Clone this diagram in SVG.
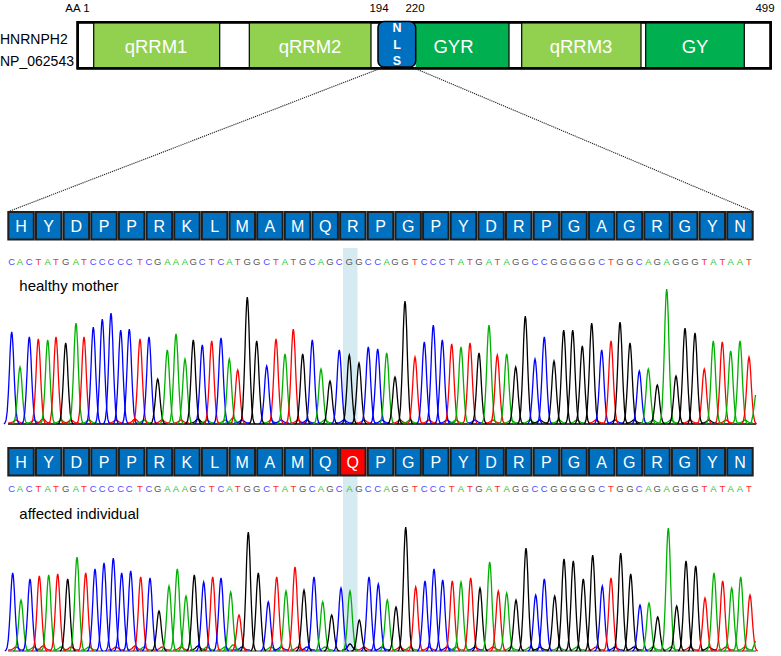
<svg xmlns="http://www.w3.org/2000/svg" xmlns:xlink="http://www.w3.org/1999/xlink" width="781" height="656" viewBox="0 0 781 656">
<style>
text{font-family:"Liberation Sans",Arial,sans-serif}
.lbl{font-size:14px;fill:#000}
.pos{font-size:11.5px;fill:#000;text-anchor:middle}
.dom{font-size:18.5px;fill:#fff;text-anchor:middle}
.nls{font-size:12.5px;font-weight:bold;fill:#fff;text-anchor:middle}
.sep{stroke:#000;stroke-width:1.2}
.aa rect{fill:#0070c0;stroke:#1e1e1e;stroke-width:2}
.aa.mut rect{fill:#ff0000}
.aa text{fill:#fff;font-size:16px;text-anchor:middle}
.seq{font-size:9.5px;text-anchor:middle}
.sA{fill:#2ec52e}.sC{fill:#4b4bff}.sT{fill:#ff3030}.sG{fill:#555}
.cb{stroke:#0000ff}.cg{stroke:#00b000}.cr{stroke:#ff0000}.ck{stroke:#000}
.title{font-size:15px;fill:#000}
.band{fill:#d6eaf1}
.zoom{stroke:#222;stroke-width:1.1;stroke-dasharray:1.2 0.9;fill:none}
</style>
<defs>
<path id="peak" fill="none" stroke-width="1.3" vector-effect="non-scaling-stroke" d="M-7.8 0L-6.7 -0.011L-5.6 -0.044L-4.5 -0.135L-3.4 -0.325L-2.8 -0.458L-2.2 -0.607L-1.7 -0.755L-1.1 -0.882L-0.56 -0.969L0 -1L0.56 -0.969L1.1 -0.882L1.7 -0.755L2.2 -0.607L2.8 -0.458L3.4 -0.325L4.5 -0.135L5.6 -0.044L6.7 -0.011L7.8 0"/>
</defs>

<!-- protein bar -->
<g id="protein">
<text class="lbl" x="0" y="44">HNRNPH2</text>
<text class="lbl" x="0" y="66">NP_062543</text>
<text class="pos" x="77.5" y="12">AA 1</text>
<text class="pos" x="379" y="12">194</text>
<text class="pos" x="415" y="12">220</text>
<text class="pos" x="765" y="12">499</text>
<rect x="77.7" y="22.3" width="693" height="46" fill="#fff" stroke="#000" stroke-width="2.5"/>
<g id="qRRM1"><rect x="93.7" y="22.3" width="126" height="46" fill="#92d050"/><text class="dom" x="156" y="53">qRRM1</text></g>
<g id="qRRM2"><rect x="249.3" y="22.3" width="121.7" height="46" fill="#92d050"/><text class="dom" x="310" y="53">qRRM2</text></g>
<g id="GYR"><rect x="415.7" y="22.3" width="93.3" height="46" fill="#00b050"/><text class="dom" x="453.5" y="53">GYR</text></g>
<g id="qRRM3"><rect x="521.7" y="22.3" width="119.3" height="46" fill="#92d050"/><text class="dom" x="581" y="53">qRRM3</text></g>
<g id="GY"><rect x="645.7" y="22.3" width="98.6" height="46" fill="#00b050"/><text class="dom" x="695" y="53">GY</text></g>
<path class="sep" d="M93.7 22.3V68.3M219.7 22.3V68.3M249.3 22.3V68.3M371 22.3V68.3M509 22.3V68.3M521.7 22.3V68.3M641 22.3V68.3M645.7 22.3V68.3M744.3 22.3V68.3"/>
<rect x="77.7" y="22.3" width="693" height="46" fill="none" stroke="#000" stroke-width="2.5"/>
<g id="NLS"><rect x="378" y="21.5" width="37.7" height="45.5" rx="6" fill="#0070c0" stroke="#000" stroke-width="1.5"/>
<text class="nls" x="397" y="32">N</text><text class="nls" x="397" y="48.5">L</text><text class="nls" x="397" y="65">S</text></g>
</g>

<g id="connectors">
<path class="zoom" d="M381.5 68L8.5 211.5"/>
<path class="zoom" d="M414 68L753.5 211.5"/>
</g>

<!-- highlight bands -->
<rect class="band" x="343" y="248" width="14.5" height="176"/>
<rect class="band" x="343" y="476" width="14.5" height="175"/>

<!-- healthy mother amino acids -->
<g id="aa-mother">
<g id="m1" class="aa"><rect x="8.3" y="212" width="25.5" height="27.5"/><text x="21.05" y="231.5">H</text></g>
<g id="m2" class="aa"><rect x="35.95" y="212" width="25.5" height="27.5"/><text x="48.7" y="231.5">Y</text></g>
<g id="m3" class="aa"><rect x="63.6" y="212" width="25.5" height="27.5"/><text x="76.35" y="231.5">D</text></g>
<g id="m4" class="aa"><rect x="91.25" y="212" width="25.5" height="27.5"/><text x="104" y="231.5">P</text></g>
<g id="m5" class="aa"><rect x="118.9" y="212" width="25.5" height="27.5"/><text x="131.65" y="231.5">P</text></g>
<g id="m6" class="aa"><rect x="146.55" y="212" width="25.5" height="27.5"/><text x="159.3" y="231.5">R</text></g>
<g id="m7" class="aa"><rect x="174.2" y="212" width="25.5" height="27.5"/><text x="186.95" y="231.5">K</text></g>
<g id="m8" class="aa"><rect x="201.85" y="212" width="25.5" height="27.5"/><text x="214.6" y="231.5">L</text></g>
<g id="m9" class="aa"><rect x="229.5" y="212" width="25.5" height="27.5"/><text x="242.25" y="231.5">M</text></g>
<g id="m10" class="aa"><rect x="257.15" y="212" width="25.5" height="27.5"/><text x="269.9" y="231.5">A</text></g>
<g id="m11" class="aa"><rect x="284.8" y="212" width="25.5" height="27.5"/><text x="297.55" y="231.5">M</text></g>
<g id="m12" class="aa"><rect x="312.45" y="212" width="25.5" height="27.5"/><text x="325.2" y="231.5">Q</text></g>
<g id="m13" class="aa"><rect x="340.1" y="212" width="25.5" height="27.5"/><text x="352.85" y="231.5">R</text></g>
<g id="m14" class="aa"><rect x="367.75" y="212" width="25.5" height="27.5"/><text x="380.5" y="231.5">P</text></g>
<g id="m15" class="aa"><rect x="395.4" y="212" width="25.5" height="27.5"/><text x="408.15" y="231.5">G</text></g>
<g id="m16" class="aa"><rect x="423.05" y="212" width="25.5" height="27.5"/><text x="435.8" y="231.5">P</text></g>
<g id="m17" class="aa"><rect x="450.7" y="212" width="25.5" height="27.5"/><text x="463.45" y="231.5">Y</text></g>
<g id="m18" class="aa"><rect x="478.35" y="212" width="25.5" height="27.5"/><text x="491.1" y="231.5">D</text></g>
<g id="m19" class="aa"><rect x="506" y="212" width="25.5" height="27.5"/><text x="518.75" y="231.5">R</text></g>
<g id="m20" class="aa"><rect x="533.65" y="212" width="25.5" height="27.5"/><text x="546.4" y="231.5">P</text></g>
<g id="m21" class="aa"><rect x="561.3" y="212" width="25.5" height="27.5"/><text x="574.05" y="231.5">G</text></g>
<g id="m22" class="aa"><rect x="588.95" y="212" width="25.5" height="27.5"/><text x="601.7" y="231.5">A</text></g>
<g id="m23" class="aa"><rect x="616.6" y="212" width="25.5" height="27.5"/><text x="629.35" y="231.5">G</text></g>
<g id="m24" class="aa"><rect x="644.25" y="212" width="25.5" height="27.5"/><text x="657" y="231.5">R</text></g>
<g id="m25" class="aa"><rect x="671.9" y="212" width="25.5" height="27.5"/><text x="684.65" y="231.5">G</text></g>
<g id="m26" class="aa"><rect x="699.55" y="212" width="25.5" height="27.5"/><text x="712.3" y="231.5">Y</text></g>
<g id="m27" class="aa"><rect x="727.2" y="212" width="25.5" height="27.5"/><text x="739.95" y="231.5">N</text></g>
</g>

<text class="seq" y="265" x="11.7 20 29.3 38.3 47.7 56 65.7 76 84 93.3 102.3 111 120.7 129.3 140 149 157.7 167.3 176 185 193.3 202.3 211.7 221 229.3 237.7 247.3 256.7 266.7 276 285 293.3 302.7 312.3 321 330 339.3 349.3 359 368.3 377.7 386.7 395 405 415 424.3 433.3 442.3 451.7 461 470 479 489 497.3 506.7 515.7 525.3 535 544.3 554 563.7 572.7 582.3 591.7 601.7 611 620 630 639.3 648.3 657.3 666.7 676 685 695 704.3 713.3 722.3 730.7 740 749"><tspan class="sC">C</tspan><tspan class="sA">A</tspan><tspan class="sC">C</tspan><tspan class="sT">T</tspan><tspan class="sA">A</tspan><tspan class="sT">T</tspan><tspan class="sG">G</tspan><tspan class="sA">A</tspan><tspan class="sT">T</tspan><tspan class="sC">CCCCC</tspan><tspan class="sT">T</tspan><tspan class="sC">C</tspan><tspan class="sG">G</tspan><tspan class="sA">AAA</tspan><tspan class="sG">G</tspan><tspan class="sC">C</tspan><tspan class="sT">T</tspan><tspan class="sC">C</tspan><tspan class="sA">A</tspan><tspan class="sT">T</tspan><tspan class="sG">GG</tspan><tspan class="sC">C</tspan><tspan class="sT">T</tspan><tspan class="sA">A</tspan><tspan class="sT">T</tspan><tspan class="sG">G</tspan><tspan class="sC">C</tspan><tspan class="sA">A</tspan><tspan class="sG">G</tspan><tspan class="sC">C</tspan><tspan class="sG">GG</tspan><tspan class="sC">CC</tspan><tspan class="sA">A</tspan><tspan class="sG">GG</tspan><tspan class="sT">T</tspan><tspan class="sC">CCC</tspan><tspan class="sT">T</tspan><tspan class="sA">A</tspan><tspan class="sT">T</tspan><tspan class="sG">G</tspan><tspan class="sA">A</tspan><tspan class="sT">T</tspan><tspan class="sA">A</tspan><tspan class="sG">GG</tspan><tspan class="sC">CC</tspan><tspan class="sG">GGGGG</tspan><tspan class="sC">C</tspan><tspan class="sT">T</tspan><tspan class="sG">GG</tspan><tspan class="sC">C</tspan><tspan class="sA">A</tspan><tspan class="sG">G</tspan><tspan class="sA">A</tspan><tspan class="sG">GGG</tspan><tspan class="sT">T</tspan><tspan class="sA">A</tspan><tspan class="sT">T</tspan><tspan class="sA">AA</tspan><tspan class="sT">T</tspan></text>

<text class="title" x="19.3" y="291">healthy mother</text>

<g id="chrom-mother">
<line x1="8" y1="424" x2="756" y2="424" stroke="#000" stroke-width="1.6"/>
<g>
<use href="#peak" class="cr" transform="translate(16 423) scale(1 3)"/><use href="#peak" class="cg" transform="translate(34 423) scale(1 3)"/><use href="#peak" class="cr" transform="translate(43 423) scale(1 4)"/><use href="#peak" class="cg" transform="translate(61 423) scale(1 3)"/><use href="#peak" class="cr" transform="translate(71 423) scale(1 3)"/><use href="#peak" class="cg" transform="translate(89 423) scale(1 3)"/><use href="#peak" class="cr" transform="translate(116 423) scale(1 3)"/><use href="#peak" class="cr" transform="translate(135 423) scale(1 4)"/><use href="#peak" class="cg" transform="translate(144 423) scale(1 3)"/><use href="#peak" class="cr" transform="translate(162 423) scale(1 3)"/><use href="#peak" class="cr" transform="translate(181 423) scale(1 3)"/><use href="#peak" class="ck" transform="translate(198 423) scale(1 4)"/><use href="#peak" class="cg" transform="translate(207 423) scale(1 3)"/><use href="#peak" class="cg" transform="translate(225 423) scale(1 3)"/><use href="#peak" class="cg" transform="translate(233 423) scale(1 5)"/><use href="#peak" class="cb" transform="translate(242 423) scale(1 3)"/><use href="#peak" class="cg" transform="translate(271 423) scale(1 3)"/><use href="#peak" class="cb" transform="translate(281 423) scale(1 3)"/><use href="#peak" class="cr" transform="translate(298 423) scale(1 3)"/><use href="#peak" class="cb" transform="translate(307 423) scale(1 3)"/><use href="#peak" class="cg" transform="translate(325 423) scale(1 3)"/><use href="#peak" class="cb" transform="translate(344 423) scale(1 3)"/><use href="#peak" class="cr" transform="translate(364 423) scale(1 3)"/><use href="#peak" class="cb" transform="translate(382 423) scale(1 3)"/><use href="#peak" class="cr" transform="translate(400 423) scale(1 3)"/><use href="#peak" class="cg" transform="translate(410 423) scale(1 3)"/><use href="#peak" class="cr" transform="translate(429 423) scale(1 3)"/><use href="#peak" class="cb" transform="translate(447 423) scale(1 3)"/><use href="#peak" class="cg" transform="translate(456 423) scale(1 3)"/><use href="#peak" class="cb" transform="translate(475 423) scale(1 3)"/><use href="#peak" class="cr" transform="translate(493 423) scale(1 3)"/><use href="#peak" class="cg" transform="translate(511 423) scale(1 3)"/><use href="#peak" class="cg" transform="translate(530 423) scale(1 3)"/><use href="#peak" class="ck" transform="translate(540 423) scale(1 3)"/><use href="#peak" class="cg" transform="translate(559 423) scale(1 3)"/><use href="#peak" class="cg" transform="translate(577 423) scale(1 3)"/><use href="#peak" class="cr" transform="translate(596 423) scale(1 3)"/><use href="#peak" class="cb" transform="translate(615 423) scale(1 3)"/><use href="#peak" class="ck" transform="translate(634 423) scale(1 3)"/><use href="#peak" class="cg" transform="translate(653 423) scale(1 3)"/><use href="#peak" class="cg" transform="translate(671 423) scale(1 3)"/><use href="#peak" class="cr" transform="translate(690 423) scale(1 3)"/><use href="#peak" class="ck" transform="translate(709 423) scale(1 3)"/><use href="#peak" class="cr" transform="translate(726 423) scale(1 3)"/><use href="#peak" class="cg" transform="translate(745 423) scale(1 3)"/>
</g>
<use href="#peak" class="cb" transform="translate(11.7 424) scale(1 92)"/>
<use href="#peak" class="cg" transform="translate(20 424) scale(1 57)"/>
<use href="#peak" class="cb" transform="translate(29.3 424) scale(1 87)"/>
<use href="#peak" class="cr" transform="translate(38.3 424) scale(1 85)"/>
<use href="#peak" class="cg" transform="translate(47.7 424) scale(1 84)"/>
<use href="#peak" class="cr" transform="translate(56 424) scale(1 87)"/>
<use href="#peak" class="ck" transform="translate(65.7 424) scale(1 81)"/>
<use href="#peak" class="cg" transform="translate(76 424) scale(1 101)"/>
<use href="#peak" class="cr" transform="translate(84 424) scale(1 87)"/>
<use href="#peak" class="cb" transform="translate(93.3 424) scale(1 97)"/>
<use href="#peak" class="cb" transform="translate(102.3 424) scale(1 105)"/>
<use href="#peak" class="cb" transform="translate(111 424) scale(1 111)"/>
<use href="#peak" class="cb" transform="translate(120.7 424) scale(1 94)"/>
<use href="#peak" class="cb" transform="translate(129.3 424) scale(1 95)"/>
<use href="#peak" class="cr" transform="translate(140 424) scale(1 85)"/>
<use href="#peak" class="cb" transform="translate(149 424) scale(1 87)"/>
<use href="#peak" class="ck" transform="translate(157.7 424) scale(1 45)"/>
<use href="#peak" class="cg" transform="translate(167.3 424) scale(1 74)"/>
<use href="#peak" class="cg" transform="translate(176 424) scale(1 90)"/>
<use href="#peak" class="cg" transform="translate(185 424) scale(1 65)"/>
<use href="#peak" class="ck" transform="translate(193.3 424) scale(1 84)"/>
<use href="#peak" class="cb" transform="translate(202.3 424) scale(1 79)"/>
<use href="#peak" class="cr" transform="translate(211.7 424) scale(1 83)"/>
<use href="#peak" class="cb" transform="translate(221 424) scale(1 86)"/>
<use href="#peak" class="cg" transform="translate(229.3 424) scale(1 65)"/>
<use href="#peak" class="cr" transform="translate(237.7 424) scale(1 54)"/>
<use href="#peak" class="ck" transform="translate(247.3 424) scale(1 127)"/>
<use href="#peak" class="ck" transform="translate(256.7 424) scale(1 83)"/>
<use href="#peak" class="cb" transform="translate(266.7 424) scale(1 58)"/>
<use href="#peak" class="cr" transform="translate(276 424) scale(1 85)"/>
<use href="#peak" class="cg" transform="translate(285 424) scale(1 70)"/>
<use href="#peak" class="cr" transform="translate(293.3 424) scale(1 95)"/>
<use href="#peak" class="ck" transform="translate(302.7 424) scale(1 70)"/>
<use href="#peak" class="cb" transform="translate(312.3 424) scale(1 84)"/>
<use href="#peak" class="cg" transform="translate(321 424) scale(1 55)"/>
<use href="#peak" class="ck" transform="translate(330 424) scale(1 43)"/>
<use href="#peak" class="cb" transform="translate(339.3 424) scale(1 74)"/>
<use href="#peak" class="ck" transform="translate(349.3 424) scale(1 69)"/>
<use href="#peak" class="ck" transform="translate(359 424) scale(1 61)"/>
<use href="#peak" class="cb" transform="translate(368.3 424) scale(1 77)"/>
<use href="#peak" class="cb" transform="translate(377.7 424) scale(1 75)"/>
<use href="#peak" class="cg" transform="translate(386.7 424) scale(1 71)"/>
<use href="#peak" class="ck" transform="translate(395 424) scale(1 47)"/>
<use href="#peak" class="ck" transform="translate(405 424) scale(1 123)"/>
<use href="#peak" class="cr" transform="translate(415 424) scale(1 67)"/>
<use href="#peak" class="cb" transform="translate(424.3 424) scale(1 82)"/>
<use href="#peak" class="cb" transform="translate(433.3 424) scale(1 99)"/>
<use href="#peak" class="cb" transform="translate(442.3 424) scale(1 84)"/>
<use href="#peak" class="cr" transform="translate(451.7 424) scale(1 80)"/>
<use href="#peak" class="cg" transform="translate(461 424) scale(1 77)"/>
<use href="#peak" class="cr" transform="translate(470 424) scale(1 81)"/>
<use href="#peak" class="ck" transform="translate(479 424) scale(1 71)"/>
<use href="#peak" class="cg" transform="translate(489 424) scale(1 99)"/>
<use href="#peak" class="cr" transform="translate(497.3 424) scale(1 69)"/>
<use href="#peak" class="cg" transform="translate(506.7 424) scale(1 70)"/>
<use href="#peak" class="ck" transform="translate(515.7 424) scale(1 57)"/>
<use href="#peak" class="ck" transform="translate(525.3 424) scale(1 108)"/>
<use href="#peak" class="cb" transform="translate(535 424) scale(1 65)"/>
<use href="#peak" class="cb" transform="translate(544.3 424) scale(1 87)"/>
<use href="#peak" class="ck" transform="translate(554 424) scale(1 63)"/>
<use href="#peak" class="ck" transform="translate(563.7 424) scale(1 94)"/>
<use href="#peak" class="ck" transform="translate(572.7 424) scale(1 94)"/>
<use href="#peak" class="ck" transform="translate(582.3 424) scale(1 78)"/>
<use href="#peak" class="ck" transform="translate(591.7 424) scale(1 101)"/>
<use href="#peak" class="cb" transform="translate(601.7 424) scale(1 74)"/>
<use href="#peak" class="cr" transform="translate(611 424) scale(1 83)"/>
<use href="#peak" class="ck" transform="translate(620 424) scale(1 102)"/>
<use href="#peak" class="ck" transform="translate(630 424) scale(1 81)"/>
<use href="#peak" class="cb" transform="translate(639.3 424) scale(1 53)"/>
<use href="#peak" class="cg" transform="translate(648.3 424) scale(1 55)"/>
<use href="#peak" class="ck" transform="translate(657.3 424) scale(1 39)"/>
<use href="#peak" class="cg" transform="translate(666.7 424) scale(1 135)"/>
<use href="#peak" class="ck" transform="translate(676 424) scale(1 48)"/>
<use href="#peak" class="ck" transform="translate(685 424) scale(1 96)"/>
<use href="#peak" class="ck" transform="translate(695 424) scale(1 91)"/>
<use href="#peak" class="cr" transform="translate(704.3 424) scale(1 55)"/>
<use href="#peak" class="cg" transform="translate(713.3 424) scale(1 83)"/>
<use href="#peak" class="cr" transform="translate(722.3 424) scale(1 82)"/>
<use href="#peak" class="cg" transform="translate(730.7 424) scale(1 73)"/>
<use href="#peak" class="cg" transform="translate(740 424) scale(1 83)"/>
<use href="#peak" class="cr" transform="translate(749 424) scale(1 67)"/>
<path class="cg" d="M751 423.5L753 415L755.5 395" fill="none" stroke-width="1.3"/>
</g>

<!-- affected individual amino acids -->
<g id="aa-affected">
<g id="a1" class="aa"><rect x="8.3" y="448" width="25.5" height="27.5"/><text x="21.05" y="467.5">H</text></g>
<g id="a2" class="aa"><rect x="35.95" y="448" width="25.5" height="27.5"/><text x="48.7" y="467.5">Y</text></g>
<g id="a3" class="aa"><rect x="63.6" y="448" width="25.5" height="27.5"/><text x="76.35" y="467.5">D</text></g>
<g id="a4" class="aa"><rect x="91.25" y="448" width="25.5" height="27.5"/><text x="104" y="467.5">P</text></g>
<g id="a5" class="aa"><rect x="118.9" y="448" width="25.5" height="27.5"/><text x="131.65" y="467.5">P</text></g>
<g id="a6" class="aa"><rect x="146.55" y="448" width="25.5" height="27.5"/><text x="159.3" y="467.5">R</text></g>
<g id="a7" class="aa"><rect x="174.2" y="448" width="25.5" height="27.5"/><text x="186.95" y="467.5">K</text></g>
<g id="a8" class="aa"><rect x="201.85" y="448" width="25.5" height="27.5"/><text x="214.6" y="467.5">L</text></g>
<g id="a9" class="aa"><rect x="229.5" y="448" width="25.5" height="27.5"/><text x="242.25" y="467.5">M</text></g>
<g id="a10" class="aa"><rect x="257.15" y="448" width="25.5" height="27.5"/><text x="269.9" y="467.5">A</text></g>
<g id="a11" class="aa"><rect x="284.8" y="448" width="25.5" height="27.5"/><text x="297.55" y="467.5">M</text></g>
<g id="a12" class="aa"><rect x="312.45" y="448" width="25.5" height="27.5"/><text x="325.2" y="467.5">Q</text></g>
<g id="a13" class="aa mut"><rect x="340.1" y="448" width="25.5" height="27.5"/><text x="352.85" y="467.5">Q</text></g>
<g id="a14" class="aa"><rect x="367.75" y="448" width="25.5" height="27.5"/><text x="380.5" y="467.5">P</text></g>
<g id="a15" class="aa"><rect x="395.4" y="448" width="25.5" height="27.5"/><text x="408.15" y="467.5">G</text></g>
<g id="a16" class="aa"><rect x="423.05" y="448" width="25.5" height="27.5"/><text x="435.8" y="467.5">P</text></g>
<g id="a17" class="aa"><rect x="450.7" y="448" width="25.5" height="27.5"/><text x="463.45" y="467.5">Y</text></g>
<g id="a18" class="aa"><rect x="478.35" y="448" width="25.5" height="27.5"/><text x="491.1" y="467.5">D</text></g>
<g id="a19" class="aa"><rect x="506" y="448" width="25.5" height="27.5"/><text x="518.75" y="467.5">R</text></g>
<g id="a20" class="aa"><rect x="533.65" y="448" width="25.5" height="27.5"/><text x="546.4" y="467.5">P</text></g>
<g id="a21" class="aa"><rect x="561.3" y="448" width="25.5" height="27.5"/><text x="574.05" y="467.5">G</text></g>
<g id="a22" class="aa"><rect x="588.95" y="448" width="25.5" height="27.5"/><text x="601.7" y="467.5">A</text></g>
<g id="a23" class="aa"><rect x="616.6" y="448" width="25.5" height="27.5"/><text x="629.35" y="467.5">G</text></g>
<g id="a24" class="aa"><rect x="644.25" y="448" width="25.5" height="27.5"/><text x="657" y="467.5">R</text></g>
<g id="a25" class="aa"><rect x="671.9" y="448" width="25.5" height="27.5"/><text x="684.65" y="467.5">G</text></g>
<g id="a26" class="aa"><rect x="699.55" y="448" width="25.5" height="27.5"/><text x="712.3" y="467.5">Y</text></g>
<g id="a27" class="aa"><rect x="727.2" y="448" width="25.5" height="27.5"/><text x="739.95" y="467.5">N</text></g>
</g>

<text class="seq" y="492" x="11.7 20 29.3 38.3 47.7 56 65.7 76 84 93.3 102.3 111 120.7 129.3 140 149 157.7 167.3 176 185 193.3 202.3 211.7 221 229.3 237.7 247.3 256.7 266.7 276 285 293.3 302.7 312.3 321 330 339.3 349.3 359 368.3 377.7 386.7 395 405 415 424.3 433.3 442.3 451.7 461 470 479 489 497.3 506.7 515.7 525.3 535 544.3 554 563.7 572.7 582.3 591.7 601.7 611 620 630 639.3 648.3 657.3 666.7 676 685 695 704.3 713.3 722.3 730.7 740 749"><tspan class="sC">C</tspan><tspan class="sA">A</tspan><tspan class="sC">C</tspan><tspan class="sT">T</tspan><tspan class="sA">A</tspan><tspan class="sT">T</tspan><tspan class="sG">G</tspan><tspan class="sA">A</tspan><tspan class="sT">T</tspan><tspan class="sC">CCCCC</tspan><tspan class="sT">T</tspan><tspan class="sC">C</tspan><tspan class="sG">G</tspan><tspan class="sA">AAA</tspan><tspan class="sG">G</tspan><tspan class="sC">C</tspan><tspan class="sT">T</tspan><tspan class="sC">C</tspan><tspan class="sA">A</tspan><tspan class="sT">T</tspan><tspan class="sG">GG</tspan><tspan class="sC">C</tspan><tspan class="sT">T</tspan><tspan class="sA">A</tspan><tspan class="sT">T</tspan><tspan class="sG">G</tspan><tspan class="sC">C</tspan><tspan class="sA">A</tspan><tspan class="sG">G</tspan><tspan class="sC">C</tspan><tspan class="sA">A</tspan><tspan class="sG">G</tspan><tspan class="sC">CC</tspan><tspan class="sA">A</tspan><tspan class="sG">GG</tspan><tspan class="sT">T</tspan><tspan class="sC">CCC</tspan><tspan class="sT">T</tspan><tspan class="sA">A</tspan><tspan class="sT">T</tspan><tspan class="sG">G</tspan><tspan class="sA">A</tspan><tspan class="sT">T</tspan><tspan class="sA">A</tspan><tspan class="sG">GG</tspan><tspan class="sC">CC</tspan><tspan class="sG">GGGGG</tspan><tspan class="sC">C</tspan><tspan class="sT">T</tspan><tspan class="sG">GG</tspan><tspan class="sC">C</tspan><tspan class="sA">A</tspan><tspan class="sG">G</tspan><tspan class="sA">A</tspan><tspan class="sG">GGG</tspan><tspan class="sT">T</tspan><tspan class="sA">A</tspan><tspan class="sT">T</tspan><tspan class="sA">AA</tspan><tspan class="sT">T</tspan></text>

<text class="title" x="19.3" y="519">affected individual</text>

<g id="chrom-affected">
<line x1="8" y1="651" x2="756" y2="651" stroke="#9a9a9a" stroke-width="2"/>
<g>
<use href="#peak" class="cr" transform="translate(16 650) scale(1 3)"/><use href="#peak" class="cg" transform="translate(34 650) scale(1 3)"/><use href="#peak" class="cr" transform="translate(43 650) scale(1 4)"/><use href="#peak" class="cg" transform="translate(61 650) scale(1 3)"/><use href="#peak" class="cr" transform="translate(71 650) scale(1 3)"/><use href="#peak" class="cg" transform="translate(89 650) scale(1 3)"/><use href="#peak" class="cr" transform="translate(116 650) scale(1 3)"/><use href="#peak" class="cr" transform="translate(135 650) scale(1 4)"/><use href="#peak" class="cg" transform="translate(144 650) scale(1 3)"/><use href="#peak" class="cr" transform="translate(162 650) scale(1 3)"/><use href="#peak" class="cr" transform="translate(181 650) scale(1 3)"/><use href="#peak" class="ck" transform="translate(198 650) scale(1 4)"/><use href="#peak" class="cg" transform="translate(207 650) scale(1 3)"/><use href="#peak" class="cg" transform="translate(225 650) scale(1 3)"/><use href="#peak" class="cg" transform="translate(233 650) scale(1 5)"/><use href="#peak" class="cb" transform="translate(242 650) scale(1 3)"/><use href="#peak" class="cg" transform="translate(271 650) scale(1 3)"/><use href="#peak" class="cb" transform="translate(281 650) scale(1 3)"/><use href="#peak" class="cr" transform="translate(298 650) scale(1 3)"/><use href="#peak" class="cb" transform="translate(307 650) scale(1 3)"/><use href="#peak" class="cg" transform="translate(325 650) scale(1 3)"/><use href="#peak" class="ck" transform="translate(350 650) scale(1 6)"/><use href="#peak" class="cr" transform="translate(364 650) scale(1 3)"/><use href="#peak" class="cb" transform="translate(382 650) scale(1 3)"/><use href="#peak" class="cr" transform="translate(400 650) scale(1 3)"/><use href="#peak" class="cg" transform="translate(410 650) scale(1 3)"/><use href="#peak" class="cr" transform="translate(429 650) scale(1 3)"/><use href="#peak" class="cb" transform="translate(447 650) scale(1 3)"/><use href="#peak" class="cg" transform="translate(456 650) scale(1 3)"/><use href="#peak" class="cb" transform="translate(475 650) scale(1 3)"/><use href="#peak" class="cr" transform="translate(493 650) scale(1 3)"/><use href="#peak" class="cg" transform="translate(511 650) scale(1 3)"/><use href="#peak" class="cg" transform="translate(530 650) scale(1 3)"/><use href="#peak" class="ck" transform="translate(540 650) scale(1 3)"/><use href="#peak" class="cg" transform="translate(559 650) scale(1 3)"/><use href="#peak" class="cg" transform="translate(577 650) scale(1 3)"/><use href="#peak" class="cr" transform="translate(596 650) scale(1 3)"/><use href="#peak" class="cb" transform="translate(615 650) scale(1 3)"/><use href="#peak" class="ck" transform="translate(634 650) scale(1 3)"/><use href="#peak" class="cg" transform="translate(653 650) scale(1 3)"/><use href="#peak" class="cg" transform="translate(671 650) scale(1 3)"/><use href="#peak" class="cr" transform="translate(690 650) scale(1 3)"/><use href="#peak" class="ck" transform="translate(709 650) scale(1 3)"/><use href="#peak" class="cr" transform="translate(726 650) scale(1 3)"/><use href="#peak" class="cg" transform="translate(745 650) scale(1 3)"/>
</g>
<use href="#peak" class="cb" transform="translate(12.7 651) scale(1 78)"/>
<use href="#peak" class="cg" transform="translate(21 651) scale(1 51)"/>
<use href="#peak" class="cb" transform="translate(30 651) scale(1 72)"/>
<use href="#peak" class="cr" transform="translate(39.3 651) scale(1 75)"/>
<use href="#peak" class="cg" transform="translate(48.7 651) scale(1 76)"/>
<use href="#peak" class="cr" transform="translate(57.7 651) scale(1 77)"/>
<use href="#peak" class="ck" transform="translate(67.7 651) scale(1 72)"/>
<use href="#peak" class="cg" transform="translate(77 651) scale(1 94)"/>
<use href="#peak" class="cr" transform="translate(85.7 651) scale(1 78)"/>
<use href="#peak" class="cb" transform="translate(95 651) scale(1 82)"/>
<use href="#peak" class="cb" transform="translate(104 651) scale(1 88)"/>
<use href="#peak" class="cb" transform="translate(113.3 651) scale(1 93)"/>
<use href="#peak" class="cb" transform="translate(121.7 651) scale(1 78)"/>
<use href="#peak" class="cb" transform="translate(130.7 651) scale(1 80)"/>
<use href="#peak" class="cr" transform="translate(140.7 651) scale(1 74)"/>
<use href="#peak" class="cb" transform="translate(150 651) scale(1 73)"/>
<use href="#peak" class="ck" transform="translate(159 651) scale(1 40)"/>
<use href="#peak" class="cg" transform="translate(169 651) scale(1 65)"/>
<use href="#peak" class="cg" transform="translate(177.3 651) scale(1 82)"/>
<use href="#peak" class="cg" transform="translate(186 651) scale(1 55)"/>
<use href="#peak" class="ck" transform="translate(194.3 651) scale(1 76)"/>
<use href="#peak" class="cb" transform="translate(203.7 651) scale(1 69)"/>
<use href="#peak" class="cr" transform="translate(212.7 651) scale(1 74)"/>
<use href="#peak" class="cb" transform="translate(221 651) scale(1 73)"/>
<use href="#peak" class="cg" transform="translate(230.7 651) scale(1 59)"/>
<use href="#peak" class="cr" transform="translate(239 651) scale(1 36)"/>
<use href="#peak" class="ck" transform="translate(248.3 651) scale(1 119)"/>
<use href="#peak" class="ck" transform="translate(258.3 651) scale(1 78)"/>
<use href="#peak" class="cb" transform="translate(268.3 651) scale(1 49)"/>
<use href="#peak" class="cr" transform="translate(276.7 651) scale(1 74)"/>
<use href="#peak" class="cg" transform="translate(286 651) scale(1 60)"/>
<use href="#peak" class="cr" transform="translate(295 651) scale(1 84)"/>
<use href="#peak" class="ck" transform="translate(304 651) scale(1 61)"/>
<use href="#peak" class="cb" transform="translate(314 651) scale(1 74)"/>
<use href="#peak" class="cg" transform="translate(322.7 651) scale(1 49)"/>
<use href="#peak" class="ck" transform="translate(331.7 651) scale(1 36)"/>
<use href="#peak" class="cb" transform="translate(341 651) scale(1 63)"/>
<use href="#peak" class="cg" transform="translate(350 651) scale(1 60)"/>
<use href="#peak" class="ck" transform="translate(359.3 651) scale(1 31)"/>
<use href="#peak" class="cb" transform="translate(369 651) scale(1 74)"/>
<use href="#peak" class="cb" transform="translate(378.3 651) scale(1 67)"/>
<use href="#peak" class="cg" transform="translate(387.3 651) scale(1 51)"/>
<use href="#peak" class="ck" transform="translate(396 651) scale(1 44)"/>
<use href="#peak" class="ck" transform="translate(405.7 651) scale(1 124)"/>
<use href="#peak" class="cr" transform="translate(415.7 651) scale(1 64)"/>
<use href="#peak" class="cb" transform="translate(425 651) scale(1 70)"/>
<use href="#peak" class="cb" transform="translate(434 651) scale(1 82)"/>
<use href="#peak" class="cb" transform="translate(442.7 651) scale(1 71)"/>
<use href="#peak" class="cr" transform="translate(452.3 651) scale(1 70)"/>
<use href="#peak" class="cg" transform="translate(461 651) scale(1 69)"/>
<use href="#peak" class="cr" transform="translate(470.7 651) scale(1 73)"/>
<use href="#peak" class="ck" transform="translate(480 651) scale(1 63)"/>
<use href="#peak" class="cg" transform="translate(489.7 651) scale(1 89)"/>
<use href="#peak" class="cr" transform="translate(498.3 651) scale(1 60)"/>
<use href="#peak" class="cg" transform="translate(506.7 651) scale(1 58)"/>
<use href="#peak" class="ck" transform="translate(516 651) scale(1 51)"/>
<use href="#peak" class="ck" transform="translate(526 651) scale(1 103)"/>
<use href="#peak" class="cb" transform="translate(535.7 651) scale(1 56)"/>
<use href="#peak" class="cb" transform="translate(544.3 651) scale(1 72)"/>
<use href="#peak" class="ck" transform="translate(554.7 651) scale(1 55)"/>
<use href="#peak" class="ck" transform="translate(564 651) scale(1 92)"/>
<use href="#peak" class="ck" transform="translate(573.3 651) scale(1 90)"/>
<use href="#peak" class="ck" transform="translate(583.3 651) scale(1 72)"/>
<use href="#peak" class="ck" transform="translate(592.7 651) scale(1 96)"/>
<use href="#peak" class="cb" transform="translate(602.3 651) scale(1 65)"/>
<use href="#peak" class="cr" transform="translate(611 651) scale(1 73)"/>
<use href="#peak" class="ck" transform="translate(620.7 651) scale(1 98)"/>
<use href="#peak" class="ck" transform="translate(630.7 651) scale(1 77)"/>
<use href="#peak" class="cb" transform="translate(640 651) scale(1 46)"/>
<use href="#peak" class="cg" transform="translate(649 651) scale(1 48)"/>
<use href="#peak" class="ck" transform="translate(657.7 651) scale(1 34)"/>
<use href="#peak" class="cg" transform="translate(668.3 651) scale(1 123)"/>
<use href="#peak" class="ck" transform="translate(676.7 651) scale(1 45)"/>
<use href="#peak" class="ck" transform="translate(686 651) scale(1 90)"/>
<use href="#peak" class="ck" transform="translate(695.7 651) scale(1 85)"/>
<use href="#peak" class="cr" transform="translate(705 651) scale(1 53)"/>
<use href="#peak" class="cg" transform="translate(714 651) scale(1 78)"/>
<use href="#peak" class="cr" transform="translate(722.7 651) scale(1 70)"/>
<use href="#peak" class="cg" transform="translate(731.7 651) scale(1 63)"/>
<use href="#peak" class="cg" transform="translate(740.7 651) scale(1 74)"/>
<use href="#peak" class="cr" transform="translate(750 651) scale(1 56)"/>
<path class="cg" d="M752 650.5L755.5 641" fill="none" stroke-width="1.3"/>
</g>
</svg>
